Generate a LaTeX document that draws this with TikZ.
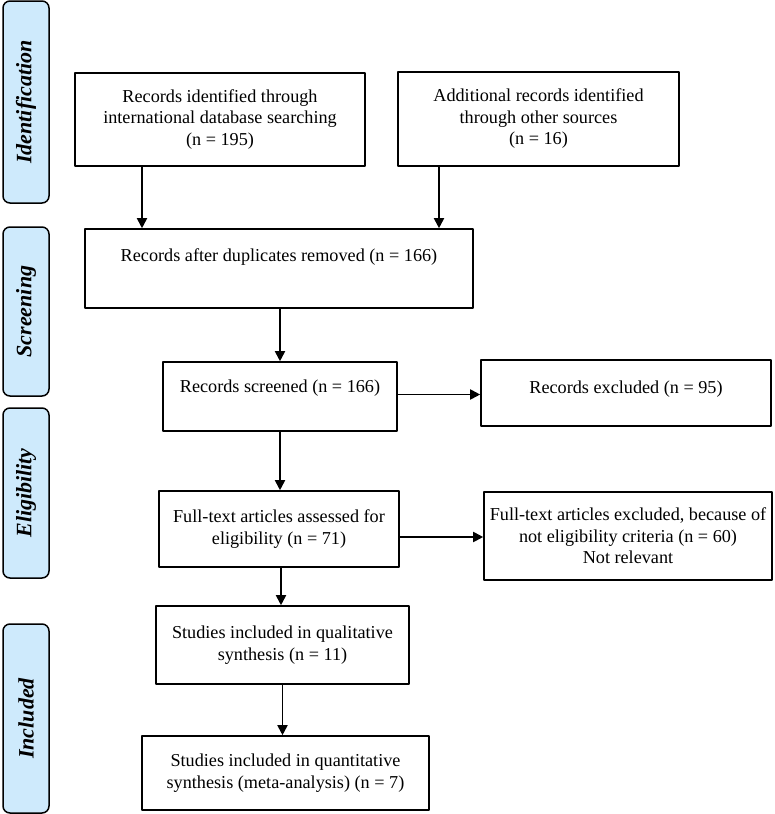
\documentclass[tikz,border=0pt]{standalone}
\usepackage{fontspec}
\setmainfont{Liberation Serif}
\usetikzlibrary{arrows.meta}
\definecolor{stagebg}{RGB}{206,234,252}
\begin{document}
\begin{tikzpicture}[x=1pt, y=-1pt, line join=round, >={Triangle[length=10pt,width=10pt]},
		box/.style={draw, line width=1.6pt, align=center, inner sep=2pt, font=\fontsize{18.2}{21.5}\selectfont},
		stage/.style={draw, fill=stagebg, line width=1.5pt, rounded corners=7pt, rotate=90, inner sep=0pt,
			minimum height=46pt, font=\fontsize{22}{26}\selectfont\bfseries\itshape},
		flow/.style={->, line width=1.8pt}
		]
	\useasboundingbox (0,0) rectangle (774,814);
	% stages on the left
	\node[stage, minimum width=202pt] (ident) at (26,102) {Identification};
	\node[stage, minimum width=169pt] (screen) at (26,311.5) {Screening};
	\node[stage, minimum width=170pt] (elig) at (26,493) {Eligibility};
	\node[stage, minimum width=189pt] (incl) at (26,718.5) {Included};
	% boxes
	\node[box, minimum width=290pt, minimum height=93pt] (dbrec) at (220,119.5) {Records identified through\\international database searching\\(n = 195)};
	\node[box, minimum width=281pt, minimum height=94pt] (otherrec) at (538.5,119) {Additional records identified\\through other sources\\(n = 16)};
	\node[box, minimum width=388pt, minimum height=79pt] (dedup) at (279,268.5) {Records after duplicates removed (n = 166)\\[6pt] \mbox{}};
	\node[box, minimum width=234pt, minimum height=69pt] (screened) at (280,396.5) {Records screened (n = 166)\\ \mbox{}};
	\node[box, minimum width=290pt, minimum height=66pt] (excl) at (626,393) {Records excluded (n = 95)\\[-9pt] \mbox{}};
	\node[box, minimum width=240pt, minimum height=76pt] (fulltext) at (279,529) {Full-text articles assessed for\\eligibility (n = 71)};
	\node[box, minimum width=288pt, minimum height=88pt] (ftexcl) at (628,536) {Full-text articles excluded, because of\\not eligibility criteria (n = 60)\\Not relevant};
	\node[box, minimum width=253pt, minimum height=78pt] (qual) at (282.5,645) {Studies included in qualitative\\synthesis (n = 11)};
	\node[box, minimum width=287pt, minimum height=74pt] (quant) at (285.5,773) {Studies included in quantitative\\synthesis (meta-analysis) (n = 7)};
	% arrows
	\draw[flow] ([xshift=-78pt]dbrec.south) -- ([xshift=-78pt]dbrec.south |- dedup.north);
	\draw[flow] ([xshift=-99.5pt]otherrec.south) -- ([xshift=-99.5pt]otherrec.south |- dedup.north);
	\draw[flow] ([xshift=1pt]dedup.south) -- ([xshift=1pt]dedup.south |- screened.north);
	\draw[flow] ([yshift=2pt]screened.east) -- ([yshift=2pt]screened.east -| excl.west);
	\draw[flow] (screened.south) -- (screened.south |- fulltext.north);
	\draw[flow] ([yshift=-8pt]fulltext.east) -- ([yshift=-8pt]fulltext.east -| ftexcl.west);
	\draw[flow] ([xshift=2pt]fulltext.south) -- ([xshift=2pt]fulltext.south |- qual.north);
	\draw[flow] (qual.south) -- (qual.south |- quant.north);
\end{tikzpicture}
\end{document}
